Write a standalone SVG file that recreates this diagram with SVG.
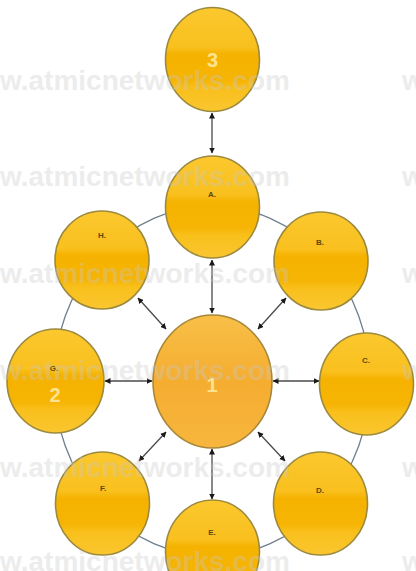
<svg xmlns="http://www.w3.org/2000/svg" width="416" height="571" viewBox="0 0 416 571">
<style>
.node{stroke:#9c8a3e;stroke-width:1.6;fill:url(#gold)}
.core{stroke:#a8873a;stroke-width:1.6;fill:url(#orange)}
.lbl{font-family:"Liberation Sans",Arial,sans-serif;font-size:8px;font-weight:bold;fill:#5a4a10;text-anchor:middle}
.num{font-family:"Liberation Sans",Arial,sans-serif;font-size:20px;font-weight:bold;fill:#fde38e;text-anchor:middle}
.ring{fill:none;stroke:#6f7f8c;stroke-width:1.3}
.link{stroke:#4a4a4a;stroke-width:1.3;marker-start:url(#arr);marker-end:url(#arr)}
.wm{font-family:"Liberation Sans",Arial,sans-serif;font-size:28px;font-weight:bold;fill:#c8c8c8;opacity:0.33}
</style>
<defs>
<linearGradient id="gold" x1="0" y1="0" x2="0" y2="1">
<stop offset="0" stop-color="#fbc82e"/>
<stop offset="0.38" stop-color="#f9c01e"/>
<stop offset="0.45" stop-color="#f5b200"/>
<stop offset="0.7" stop-color="#f6b404"/>
<stop offset="0.78" stop-color="#f9c01c"/>
<stop offset="1" stop-color="#fac630"/>
</linearGradient>
<linearGradient id="orange" x1="0" y1="0" x2="0" y2="1">
<stop offset="0" stop-color="#f8bf48"/>
<stop offset="0.5" stop-color="#f5ad30"/>
<stop offset="1" stop-color="#f7b63e"/>
</linearGradient>
<marker id="arr" viewBox="0 0 6 6" refX="5.5" refY="3" markerWidth="6" markerHeight="6" markerUnits="userSpaceOnUse" orient="auto-start-reverse">
<path d="M0,0 L6,3 L0,6 z" fill="#1a1a1a"/>
</marker>
</defs>
<rect width="416" height="571" fill="#ffffff"/>
<g id="connectors">
<ellipse class="ring" cx="212" cy="381" rx="158" ry="175"/>
<line class="link" x1="212" y1="113" x2="212" y2="153"/>
<line class="link" x1="212" y1="260" x2="212" y2="313"/>
<line class="link" x1="138" y1="298" x2="166" y2="329"/>
<line class="link" x1="286" y1="298" x2="258" y2="329"/>
<line class="link" x1="105" y1="381" x2="152" y2="381"/>
<line class="link" x1="319" y1="381" x2="273" y2="381"/>
<line class="link" x1="139" y1="461" x2="166" y2="432"/>
<line class="link" x1="285" y1="461" x2="258" y2="432"/>
<line class="link" x1="212" y1="499" x2="212" y2="449"/>
</g>
<g id="node3"><ellipse class="node" cx="212.5" cy="59.5" rx="47" ry="52"/><text class="num" x="212.5" y="67">3</text></g>
<g id="nodeA"><ellipse class="node" cx="212.5" cy="207" rx="47" ry="51"/><text class="lbl" x="212" y="197">A.</text></g>
<g id="nodeH"><ellipse class="node" cx="102" cy="260" rx="47" ry="49"/><text class="lbl" x="102" y="238">H.</text></g>
<g id="nodeB"><ellipse class="node" cx="321" cy="261" rx="47" ry="49"/><text class="lbl" x="320" y="245">B.</text></g>
<g id="nodeG"><ellipse class="node" cx="55.5" cy="381" rx="48.5" ry="52"/><text class="lbl" x="54" y="371">G.</text><text class="num" x="55" y="402">2</text></g>
<g id="nodeC"><ellipse class="node" cx="366.5" cy="384" rx="47" ry="51"/><text class="lbl" x="366" y="363">C.</text></g>
<g id="node1"><ellipse class="core" cx="212.5" cy="381.5" rx="59.5" ry="66.5"/><text class="num" x="212" y="392">1</text></g>
<g id="nodeF"><ellipse class="node" cx="102.5" cy="503.5" rx="47" ry="51.5"/><text class="lbl" x="103" y="491">F.</text></g>
<g id="nodeD"><ellipse class="node" cx="320.5" cy="503.5" rx="47" ry="51.5"/><text class="lbl" x="320" y="493">D.</text></g>
<g id="nodeE"><ellipse class="node" cx="212.5" cy="552" rx="47" ry="52"/><text class="lbl" x="212" y="535">E.</text></g>
<g id="watermark">
<text class="wm" x="0" y="90">w.atmicnetworks.com</text><text class="wm" x="402" y="90">w</text>
<text class="wm" x="0" y="186">w.atmicnetworks.com</text><text class="wm" x="402" y="186">w</text>
<text class="wm" x="0" y="283">w.atmicnetworks.com</text><text class="wm" x="402" y="283">w</text>
<text class="wm" x="0" y="380">w.atmicnetworks.com</text><text class="wm" x="402" y="380">w</text>
<text class="wm" x="0" y="477">w.atmicnetworks.com</text><text class="wm" x="402" y="477">w</text>
<text class="wm" x="0" y="571">w.atmicnetworks.com</text><text class="wm" x="402" y="571">w</text>
</g>
</svg>
